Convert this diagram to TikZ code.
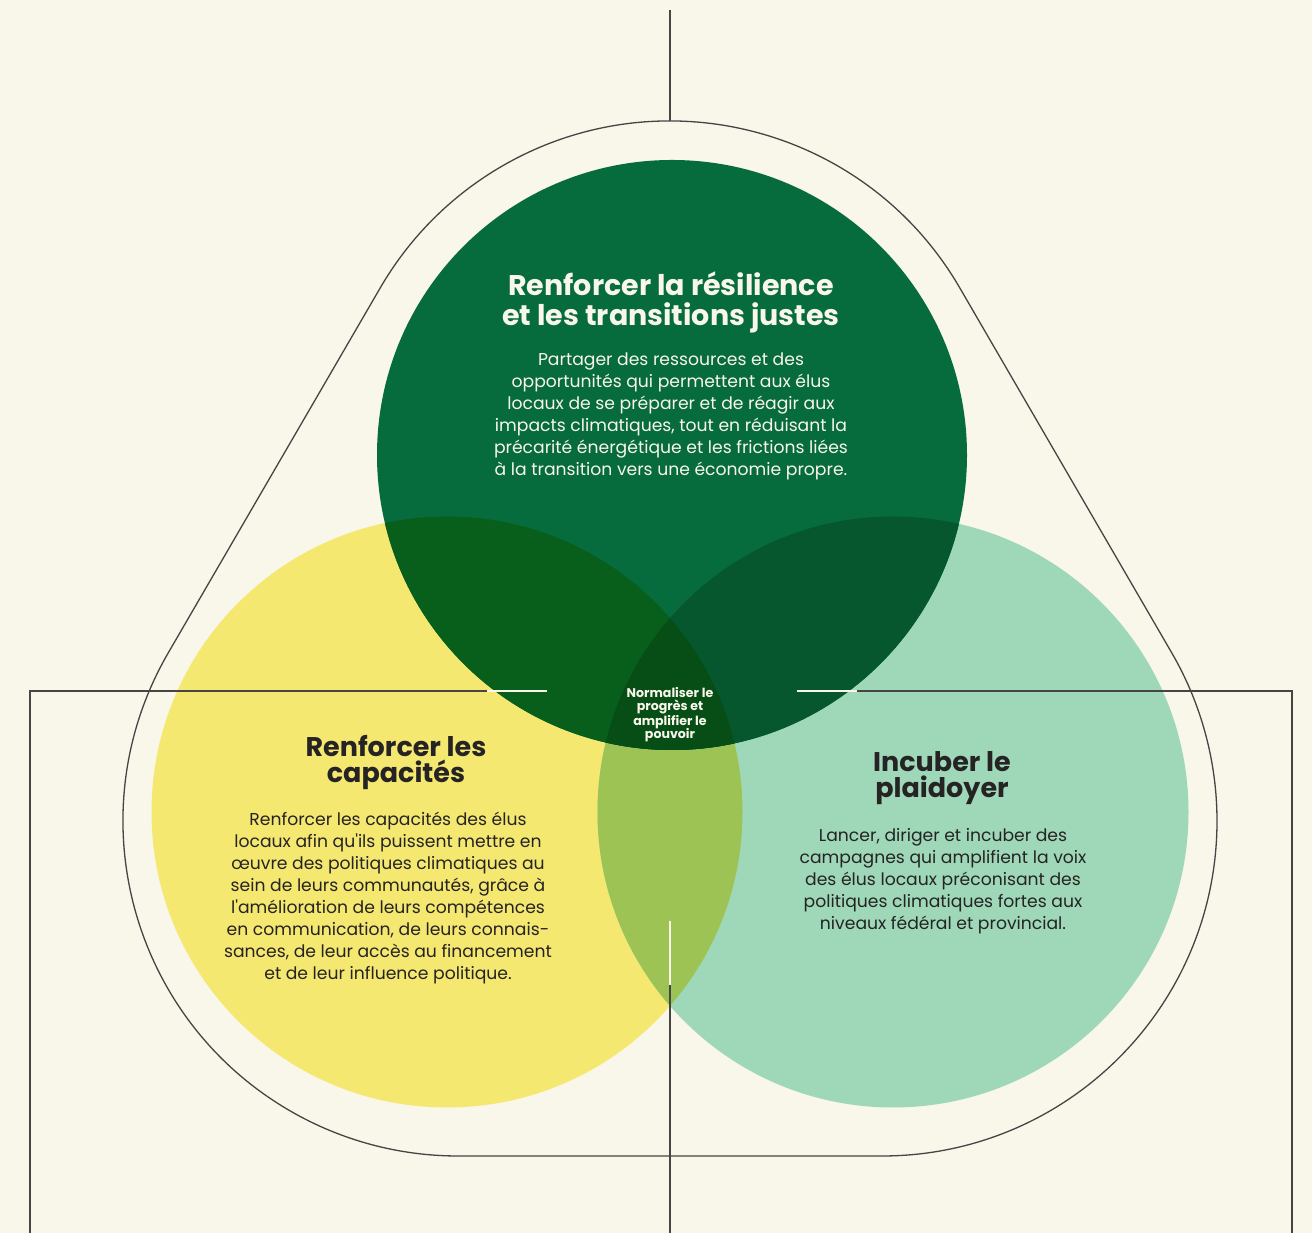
\documentclass[tikz,border=0pt]{standalone}
\usepackage{fontspec}
\setmainfont{Poppins}
\usepackage{tikz}
\usetikzlibrary{positioning}

\definecolor{paper}{HTML}{F9F6EA}
\definecolor{ink}{HTML}{262324}
\definecolor{forest}{HTML}{066B3D}
\definecolor{lemon}{HTML}{F4E870}
\definecolor{mint}{HTML}{9ED8B8}
\definecolor{forestlemon}{HTML}{075F1B}
\definecolor{forestmint}{HTML}{06572D}
\definecolor{lemonmint}{HTML}{9CC354}
\definecolor{core}{HTML}{064E16}

\begin{document}
\begin{tikzpicture}[x=1pt,y=1pt,
      title node/.style={align=center,font=\bfseries\fontsize{27}{26}\selectfont,text=ink},
      body node/.style={align=center,font=\fontsize{17.2}{22}\selectfont,text=ink},
      rule/.style={draw=ink!85,line width=1.3pt},
      light rule/.style={draw=paper,line width=1.3pt}]

    \fill[paper] (0,0) rectangle (1312,1233);
    \useasboundingbox (0,0) rectangle (1312,1233);

    % circle centres
    \coordinate (c1) at (672,778);
    \coordinate (c2) at (447,421);
    \coordinate (c3) at (893,421);

    % bottom two circles and their overlap
    \fill[lemon] (c2) circle (295.5);
    \fill[mint] (c3) circle (295.5);
    \begin{scope}
        \clip (c2) circle (295.5);
        \fill[lemonmint] (c3) circle (295.5);
    \end{scope}

    % top circle and its overlaps
    \fill[forest] (c1) circle (295);
    \begin{scope}
        \clip (c1) circle (295);
        \fill[forestlemon] (c2) circle (295.5);
        \fill[forestmint] (c3) circle (295.5);
        \clip (c2) circle (295.5);
        \fill[core] (c3) circle (295.5);
    \end{scope}

    % rounded triangle
    \coordinate (k1) at (670,777);
    \coordinate (k2) at (458,412);
    \coordinate (k3) at (882,412);
    \draw[rule,line width=1.3pt] ([shift={(30:335)}]k1) arc[start angle=30,end angle=150,radius=335]
        -- ([shift={(150:335)}]k2) arc[start angle=150,end angle=270,radius=335]
        -- ([shift={(270:335)}]k3) arc[start angle=270,end angle=390,radius=335] -- cycle;

    % rules
    \coordinate (n1) at (670,1223);
    \coordinate (n2) at (670,1112);
    \coordinate (w1) at (547,542);
    \coordinate (w2) at (487,542);
    \coordinate (w3) at (30,542);
    \coordinate (w4) at (30,0);
    \coordinate (e1) at (797,542);
    \coordinate (e2) at (857,542);
    \coordinate (e3) at (1292,542);
    \coordinate (e4) at (1292,0);
    \coordinate (s1) at (670,312);
    \coordinate (s2) at (670,248);
    \coordinate (s3) at (670,0);

    \draw[rule] (n1) -- (n2);
    \draw[rule] (w2) -- (w3) -- (w4);
    \draw[rule] (e2) -- (e3) -- (e4);
    \draw[rule] (s2) -- (s3);
    \draw[light rule] (w1) -- (w2);
    \draw[light rule] (e1) -- (e2);
    \draw[light rule] (s1) -- (s2);

    % texts
    \node[title node,text=paper,font=\bfseries\fontsize{28.5}{30}\selectfont] (1) at (671,931)
        {Renforcer la résilience\\et les transitions justes};
    \node[body node,text=paper] (1b) at (671,817)
        {Partager des ressources et des\\opportunités qui permettent aux élus\\locaux de se préparer et de réagir aux\\impacts climatiques, tout en réduisant la\\précarité énergétique et les frictions liées\\à la transition vers une économie propre.};

    \node[title node] (2) at (396,470) {Renforcer les\\capacités};
    \node[body node] (2b) at (388,335)
        {Renforcer les capacités des élus\\locaux afin qu\textquotesingle ils puissent mettre en\\œuvre des politiques climatiques au\\sein de leurs communautés, grâce à\\l\textquotesingle amélioration de leurs compétences\\en communication, de leurs connais-\\sances, de leur accès au financement\\et de leur influence politique.};

    \node[title node] (3) at (942,455) {Incuber le\\plaidoyer};
    \node[body node] (3b) at (943,352)
        {Lancer, diriger et incuber des\\campagnes qui amplifient la voix\\des élus locaux préconisant des\\politiques climatiques fortes aux\\niveaux fédéral et provincial.};

    \node[align=center,text=paper,font=\bfseries\fontsize{12.6}{13.5}\selectfont] (4) at (670,518.5)
        {Normaliser le\\progrès et\\amplifier le\\pouvoir};
\end{tikzpicture}
\end{document}
